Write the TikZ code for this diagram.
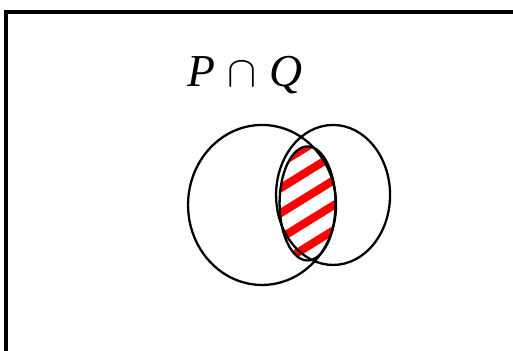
\documentclass[tikz,border=0pt]{standalone}
\usepackage{fontspec}
\setmainfont{Liberation Serif}
\usepackage{tikz}
\usetikzlibrary{positioning}

\begin{document}
\begin{tikzpicture}[scale=0.02]
  \clip (0,0) rectangle (513,351);
  \coordinate (cP) at (262,146);
  \coordinate (cQ) at (333,156);
  \coordinate (cPQ) at (307.5,147.5);
  \fill[white] (0,0) rectangle (513,351);
  \draw[line width=2pt] (6,-20) -- (6,339) -- (540,339);
  \begin{scope}
    \clip (cPQ) ellipse [x radius=28, y radius=57];
    \foreach \k in {-111,-86,...,89}{\draw[red,line width=4.6pt] (250,\k+155) -- (360,\k+223);}
  \end{scope}
  \draw[line width=1.3pt] (cP) ellipse [x radius=74, y radius=80];
  \draw[line width=1.3pt] (cQ) ellipse [x radius=57, y radius=70];
  \draw[line width=1.3pt] (cPQ) ellipse [x radius=28, y radius=57];
  \node[anchor=base,inner sep=0pt,font=\fontsize{26}{31}\selectfont] (lbl) at (245,264) {\textit{P}\;$\cap$\;\textit{Q}};
\end{tikzpicture}
\end{document}
